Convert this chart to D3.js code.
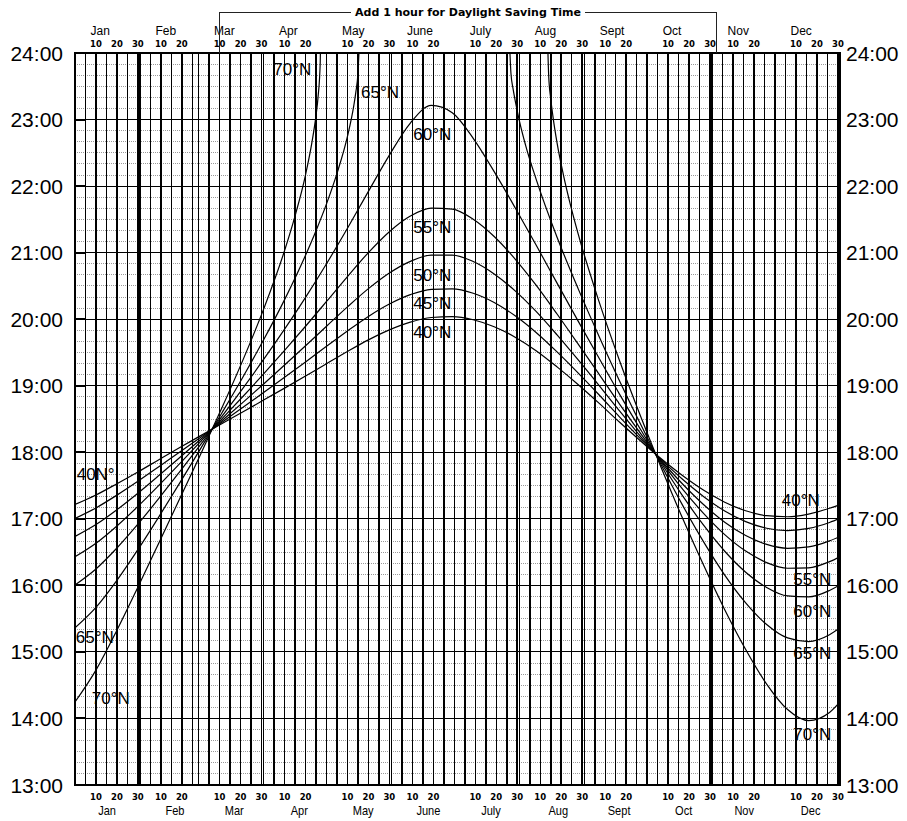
<!DOCTYPE html>
<html><head><meta charset="utf-8">
<script src="https://cdn.jsdelivr.net/npm/d3@7"></script>
<style>body{margin:0;background:#fff;} svg{display:block;}</style>
</head><body>
<svg id="c" width="907" height="821"></svg>
<script>
// ---------- data ----------
const monthNames = ["Jan","Feb","Mar","Apr","May","June","July","Aug","Sept","Oct","Nov","Dec"];
const monthLengths = [31,28,31,30,31,30,31,31,30,31,30,31];
const gridDaysOfMonth = [5,10,15,20,25,30,31];
const labelDaysOfMonth = [10,20,30];
const bottomMonthCenterDay = [15.3,16.7,17,17,17.5,17.6,17.5,18.6,16.6,17.4,15.3,17];
const hourTicks = [13,14,15,16,17,18,19,20,21,22,23,24];
const hourLabels = ["13:00","14:00","15:00","16:00","17:00","18:00","19:00","20:00","21:00","22:00","23:00","24:00"];
const dstStart = 69, dstEnd = 306;
const dstText = "Add 1 hour for Daylight Saving Time";

// day of year (Jan 0 .. Dec 31) and sunset time (hours)
const days = [0,10,20,30,40,50,60,70,80,90,100,110,120,130,140,150,160,170,180,190,200,210,220,230,240,250,260,270,280,290,300,310,320,330,340,350,360,365];
const lat40 = [17.215,17.358,17.527,17.704,17.888,18.071,18.250,18.429,18.605,18.784,18.964,19.146,19.331,19.515,19.689,19.839,19.955,20.025,20.039,19.992,19.887,19.730,19.527,19.283,19.019,18.738,18.447,18.166,17.894,17.646,17.428,17.250,17.121,17.047,17.031,17.071,17.158,17.215];
const lat45 = [17.006,17.164,17.356,17.564,17.783,18.005,18.226,18.449,18.672,18.898,19.127,19.358,19.592,19.824,20.042,20.228,20.369,20.449,20.456,20.389,20.250,20.051,19.801,19.508,19.193,18.864,18.525,18.198,17.881,17.590,17.333,17.118,16.958,16.858,16.824,16.856,16.945,17.006];
const lat50 = [16.735,16.914,17.137,17.385,17.650,17.922,18.196,18.471,18.746,19.026,19.311,19.600,19.894,20.185,20.459,20.694,20.869,20.963,20.963,20.866,20.680,20.426,20.117,19.764,19.391,19.006,18.613,18.233,17.865,17.519,17.211,16.949,16.748,16.615,16.557,16.577,16.668,16.735];
const lat55 = [16.430,16.633,16.893,17.186,17.502,17.830,18.163,18.498,18.834,19.178,19.532,19.894,20.266,20.641,21.001,21.315,21.550,21.670,21.654,21.503,21.243,20.904,20.511,20.078,19.630,19.175,18.717,18.275,17.847,17.442,17.078,16.763,16.515,16.342,16.257,16.263,16.356,16.430];
const lat60 = [16.007,16.247,16.561,16.919,17.306,17.709,18.119,18.536,18.958,19.395,19.850,20.327,20.833,21.366,21.921,22.466,22.947,23.212,23.103,22.718,22.217,21.675,21.114,20.542,19.975,19.416,18.863,18.334,17.823,17.340,16.900,16.513,16.198,15.969,15.841,15.826,15.923,16.007];
const days65 = [0,10,20,30,40,50,60,70,80,90,100,110,115,120,125,130,133,134,135,135.6,170,207.2,208,209,210,212,215,220,230,240,250,260,270,280,290,300,310,320,330,340,350,360,365];
const lat65 = [15.362,15.669,16.075,16.536,17.030,17.540,18.059,18.586,19.124,19.690,20.294,20.961,21.330,21.733,22.191,22.746,23.205,23.412,23.695,24.10,null,24.25,23.695,23.465,23.289,22.985,22.613,22.105,21.232,20.463,19.745,19.060,18.412,17.790,17.198,16.650,16.155,15.738,15.412,15.210,15.156,15.259,15.362];
const days70 = [0,10,20,30,40,50,60,70,80,90,100,105,110,113,115,116,117,117.15,170,225.45,226,227,228,230,233,236,240,250,260,270,280,290,300,310,320,330,340,350,360,365];
const lat70 = [14.248,14.727,15.326,15.973,16.636,17.305,17.975,18.661,19.377,20.151,21.032,21.553,22.170,22.649,23.062,23.348,23.852,24.12,null,24.24,23.665,23.309,23.055,22.648,22.173,21.767,21.290,20.267,19.361,18.530,17.744,17.000,16.297,15.635,15.037,14.517,14.134,13.967,14.089,14.248];

const curveLabelText = ["70°N","65°N","60°N","55°N","50°N","45°N","40°N","40N°","65°N","70°N","40°N","55°N","60°N","65°N","70°N"];
const curveLabelDay  = [94.6,136.5,161.4,161.4,161.4,161.4,161.4,0.8,0.4,8.0,337.2,342.7,342.7,342.7,342.7];
const curveLabelTime = [23.67,23.32,22.69,21.29,20.58,20.15,19.72,17.58,15.13,14.22,17.19,16.01,15.53,14.89,13.68];

// ---------- drawing ----------
const svg = d3.select("#c");
const L = 75, R = 840, T = 53, B = 785;
const x = d3.scaleLinear().domain([0,365]).range([L,R]);
const y = d3.scaleLinear().domain([13,24]).range([B,T]);
const monthStart = monthLengths.map((m,i)=>d3.sum(monthLengths.slice(0,i)));

svg.append("rect").attr("width",907).attr("height",821).attr("fill","#fff");

// minor horizontal (10 min) dotted lines
const minor = d3.range(13*6, 24*6).map(v=>v/6).filter(v=>Math.abs(v-Math.round(v))>1e-6);
svg.append("g").selectAll("line").data(minor).join("line")
  .attr("x1",L).attr("x2",R).attr("y1",d=>y(d)).attr("y2",d=>y(d))
  .attr("stroke","#999").attr("stroke-width",1).attr("stroke-dasharray","1,1")
  .attr("shape-rendering","crispEdges");

// hour lines
svg.append("g").selectAll("line").data(hourTicks).join("line")
  .attr("x1",L).attr("x2",R).attr("y1",d=>y(d)).attr("y2",d=>y(d))
  .attr("stroke","#000").attr("stroke-width",1).attr("shape-rendering","crispEdges");
// small inner ticks at the left
svg.append("g").selectAll("line").data(hourTicks).join("line")
  .attr("x1",L).attr("x2",L+10).attr("y1",d=>y(d)).attr("y2",d=>y(d))
  .attr("stroke","#000").attr("stroke-width",2).attr("shape-rendering","crispEdges");

// vertical day lines
const vDays = [];
monthLengths.forEach((len,i)=>{
  gridDaysOfMonth.forEach(dm=>{ if(dm<=len) vDays.push(monthStart[i]+dm); });
  if(len===28) vDays.push(monthStart[i]+28);
});
svg.append("g").selectAll("line").data(vDays).join("line")
  .attr("x1",d=>x(d)).attr("x2",d=>x(d)).attr("y1",T).attr("y2",B)
  .attr("stroke","#000").attr("stroke-width",1.5).attr("shape-rendering","crispEdges");

// curves
svg.append("clipPath").attr("id","clip").append("rect").attr("x",L).attr("y",T).attr("width",R-L).attr("height",B-T);
const series = [
  days.map((d,i)=>[d,lat40[i]]),
  days.map((d,i)=>[d,lat45[i]]),
  days.map((d,i)=>[d,lat50[i]]),
  days.map((d,i)=>[d,lat55[i]]),
  days.map((d,i)=>[d,lat60[i]]),
  days65.map((d,i)=>[d,lat65[i]]),
  days70.map((d,i)=>[d,lat70[i]])
];
const line = d3.line().defined(d=>d[1]!=null).x(d=>x(d[0])).y(d=>y(d[1])).curve(d3.curveMonotoneX);
svg.append("g").attr("clip-path","url(#clip)").selectAll("path").data(series).join("path")
  .attr("d",line).attr("fill","none").attr("stroke","#000").attr("stroke-width",1.2);

// border
svg.append("rect").attr("x",L).attr("y",T).attr("width",R-L).attr("height",B-T)
  .attr("fill","none").attr("stroke","#000").attr("stroke-width",1.5).attr("shape-rendering","crispEdges");

// curve labels
svg.append("g").selectAll("text").data(curveLabelText).join("text")
  .attr("x",(d,i)=>x(curveLabelDay[i])).attr("y",(d,i)=>y(curveLabelTime[i]))
  .attr("font-family","'Liberation Sans', Arial, sans-serif").attr("font-size",17).attr("fill","#000")
  .text(d=>d);

// hour labels
const hl = svg.append("g").attr("font-family","'Liberation Sans', Arial, sans-serif").attr("font-size",21).attr("fill","#000");
hl.selectAll("text.l").data(hourTicks).join("text").attr("class","l")
  .attr("x",63).attr("y",d=>y(d)+7.5).attr("text-anchor","end").text((d,i)=>hourLabels[i]);
hl.selectAll("text.r").data(hourTicks).join("text").attr("class","r")
  .attr("x",846).attr("y",d=>y(d)+7.5).attr("text-anchor","start").text((d,i)=>hourLabels[i]);

// day number labels (top and bottom)
const dayLabs = [];
monthLengths.forEach((len,i)=>{
  labelDaysOfMonth.forEach(dm=>{ if(dm<30 || len===31) dayLabs.push({day:monthStart[i]+dm, t:String(dm)}); });
});
const dl = svg.append("g").attr("font-family","'DejaVu Sans', sans-serif").attr("font-weight","bold").attr("font-size",8.5).attr("fill","#000").attr("text-anchor","middle");
dl.selectAll("text.t").data(dayLabs).join("text").attr("class","t").attr("x",d=>x(d.day)).attr("y",47).text(d=>d.t);
dl.selectAll("text.b").data(dayLabs).join("text").attr("class","b").attr("x",d=>x(d.day)).attr("y",800).text(d=>d.t);

// month labels
svg.append("g").selectAll("text").data(monthNames).join("text")
  .attr("x",(d,i)=>x(monthStart[i]+10)-5.5).attr("y",35)
  .attr("font-family","'Liberation Sans', Arial, sans-serif").attr("font-size",12).attr("fill","#000").text(d=>d);
svg.append("g").selectAll("text").data(monthNames).join("text")
  .attr("transform",(d,i)=>`translate(${x(monthStart[i]+bottomMonthCenterDay[i])},814.5) scale(0.85,1)`)
  .attr("text-anchor","middle")
  .attr("font-family","'Liberation Sans', Arial, sans-serif").attr("font-size",13).attr("fill","#000").text(d=>d);

// DST bracket
const cx = (x(dstStart)+x(dstEnd))/2;
const dt = svg.append("text").attr("x",cx).attr("y",15.5).attr("text-anchor","middle")
  .attr("font-family","'DejaVu Sans', sans-serif").attr("font-weight","bold").attr("font-size",10).attr("fill","#000").text(dstText);
let w = dt.node().getComputedTextLength();
if (Math.abs(w-226) > 4) { dt.attr("textLength",226).attr("lengthAdjust","spacingAndGlyphs"); w = 226; }
const by = 12;
svg.append("path")
  .attr("d",`M${x(dstStart)},${T} V${by} H${cx-w/2-4} M${cx+w/2+4},${by} H${x(dstEnd)} V${T}`)
  .attr("fill","none").attr("stroke","#222").attr("stroke-width",1).attr("shape-rendering","crispEdges");
</script>
</body></html>
